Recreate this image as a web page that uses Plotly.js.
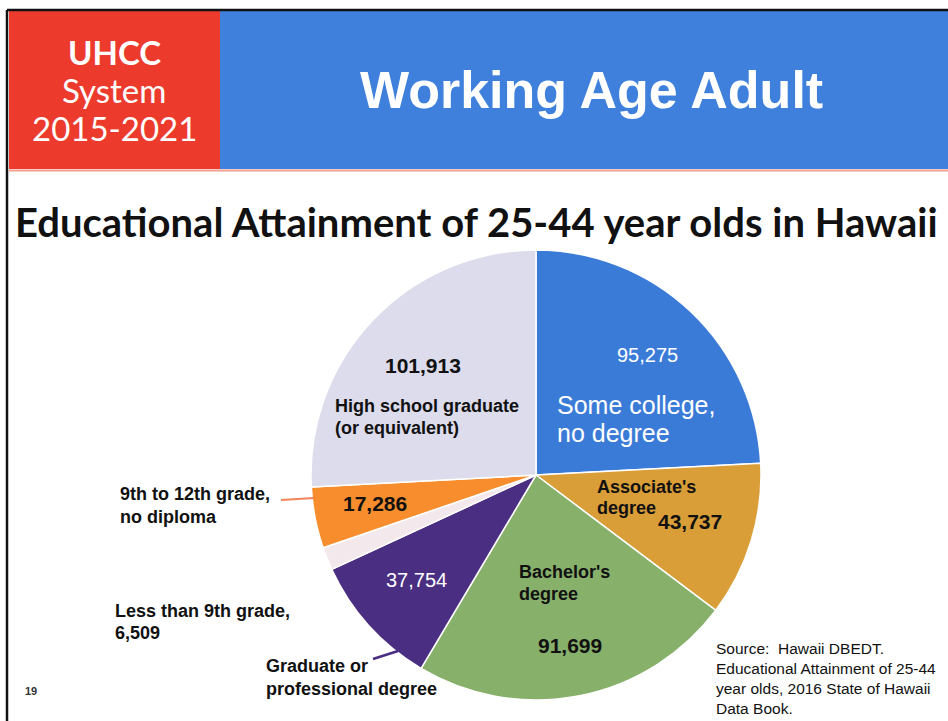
<!DOCTYPE html>
<html>
<head>
<meta charset="utf-8">
<script src="https://cdn.plot.ly/plotly-3.0.1.min.js"></script>
<style>
html,body{margin:0;padding:0;background:#fff;}
#chart{width:948px;height:721px;}
</style>
</head>
<body>
<div id="chart"></div>
<script>
// ---- data ----
const categories = [
  "Some college, no degree",
  "Associate's degree",
  "Bachelor's degree",
  "Graduate or professional degree",
  "Less than 9th grade",
  "9th to 12th grade, no diploma",
  "High school graduate (or equivalent)"
];
const values = [95275, 43737, 91699, 37754, 6509, 17286, 101913];
const sliceColors = ["#3b7bd8", "#d99e38", "#87b06b", "#4a2e82", "#f3e8ec", "#f78d2c", "#dcdcec"];

const headerLeft = ["UHCC", "System", "2015-2021"];
const headerTitle = "Working Age Adult";
const subtitle = "Educational Attainment of 25-44 year olds in Hawaii";
const sourceLines = ["Source:  Hawaii DBEDT.", "Educational Attainment of 25-44", "year olds, 2016 State of Hawaii", "Data Book."];
const slideNumber = "19";

const W = 948, H = 721;
const fmt = v => v.toLocaleString("en-US");
const px = x => x / W;
const py = y => 1 - y / H;

// pie geometry
const cx = 536, cy = 475, r = 225;

const trace = {
  type: "pie",
  labels: categories,
  values: values,
  sort: false,
  direction: "clockwise",
  rotation: 0,
  textinfo: "none",
  hoverinfo: "label+value",
  marker: {colors: sliceColors, line: {color: "#ffffff", width: 1.5}},
  domain: {x: [px(cx - r), px(cx + r)], y: [py(cy + r), py(cy - r)]},
  showlegend: false
};

const ann = [];
function txt(x, y, text, opts) {
  opts = opts || {};
  ann.push({
    xref: "paper", yref: "paper", x: px(x), y: py(y), text: text,
    showarrow: false, xanchor: opts.xanchor || "left", yanchor: "middle",
    align: opts.align || "left",
    font: Object.assign({family: "Liberation Sans, Arial, sans-serif", size: 18, color: "#111"}, opts.font || {})
  });
}
const B = s => "<b>" + s + "</b>";

// header
const hf = {family: "Lato, sans-serif", size: 33, color: "#fff"};
txt(114, 52, B(headerLeft[0]), {xanchor: "center", align: "center", font: hf});
txt(114, 90, headerLeft[1], {xanchor: "center", align: "center", font: hf});
txt(114, 128, headerLeft[2], {xanchor: "center", align: "center", font: hf});
txt(591, 90, B(headerTitle), {xanchor: "center", align: "center", font: {size: 52, color: "#fff"}});
// subtitle
txt(476, 222, B(subtitle), {xanchor: "center", align: "center", font: {family: "Lato, sans-serif", size: 40, color: "#111"}});

// slice labels
const sc = values.map(fmt);
txt(423, 365, B(sc[6]), {xanchor: "center", font: {size: 21}});
txt(333, 406, B("High school graduate"), {font: {size: 18}});
txt(333, 428, B("(or equivalent)"), {font: {size: 18}});
txt(647, 355, sc[0], {xanchor: "center", font: {size: 20, color: "#fff"}});
txt(555, 405, "Some college,", {font: {size: 25, color: "#fff"}});
txt(555, 433, "no degree", {font: {size: 25, color: "#fff"}});
txt(595, 487, B("Associate's"), {font: {size: 18}});
txt(595, 508, B("degree"), {font: {size: 18}});
txt(690, 521, B(sc[1]), {xanchor: "center", font: {size: 21}});
txt(375, 503, B(sc[5]), {xanchor: "center", font: {size: 21}});
txt(416, 580, sc[3], {xanchor: "center", font: {size: 20, color: "#fff"}});
txt(517, 572, B("Bachelor's"), {font: {size: 18}});
txt(517, 594, B("degree"), {font: {size: 18}});
txt(570, 645, B(sc[2]), {xanchor: "center", font: {size: 21}});
// outside labels
txt(118, 494, B("9th to 12th grade,"), {font: {size: 18}});
txt(118, 517, B("no diploma"), {font: {size: 18}});
txt(113, 611, B("Less than 9th grade,"), {font: {size: 18}});
txt(113, 633, B(sc[4]), {font: {size: 18}});
txt(264, 666, B("Graduate or"), {font: {size: 18}});
txt(264, 689, B("professional degree"), {font: {size: 18}});
// source
sourceLines.forEach((s, i) => txt(714, 648 + i * 20, s, {font: {size: 15.5}}));
txt(31, 691, B(slideNumber), {xanchor: "center", font: {size: 11, color: "#333"}});

const shapes = [
  // header boxes
  {type: "rect", xref: "paper", yref: "paper", x0: px(9), x1: px(220), y0: py(169), y1: py(11), fillcolor: "#ec3b2d", line: {width: 0}, layer: "below"},
  {type: "rect", xref: "paper", yref: "paper", x0: px(220), x1: px(948), y0: py(169), y1: py(11), fillcolor: "#3e80dc", line: {width: 0}, layer: "below"},
  {type: "line", xref: "paper", yref: "paper", x0: px(9), x1: px(948), y0: py(170.5), y1: py(170.5), line: {color: "#f0a090", width: 2}},
  // black frame lines
  {type: "line", xref: "paper", yref: "paper", x0: px(7), x1: px(948), y0: py(10), y1: py(10), line: {color: "#111", width: 2.5}},
  {type: "line", xref: "paper", yref: "paper", x0: px(7), x1: px(7), y0: py(10), y1: py(721), line: {color: "#111", width: 2.5}},
  // leader lines
  {type: "line", xref: "paper", yref: "paper", x0: px(281), x1: px(314), y0: py(500), y1: py(498), line: {color: "#f4845a", width: 2}},
  {type: "line", xref: "paper", yref: "paper", x0: px(373), x1: px(398), y0: py(659), y1: py(651), line: {color: "#4a2e82", width: 2.5}}
];

const layout = {
  width: W, height: H,
  margin: {l: 0, r: 0, t: 0, b: 0},
  paper_bgcolor: "#ffffff",
  plot_bgcolor: "#ffffff",
  annotations: ann,
  shapes: shapes,
  showlegend: false
};

Plotly.newPlot("chart", [trace], layout, {displayModeBar: false, staticPlot: true});
</script>
</body>
</html>
